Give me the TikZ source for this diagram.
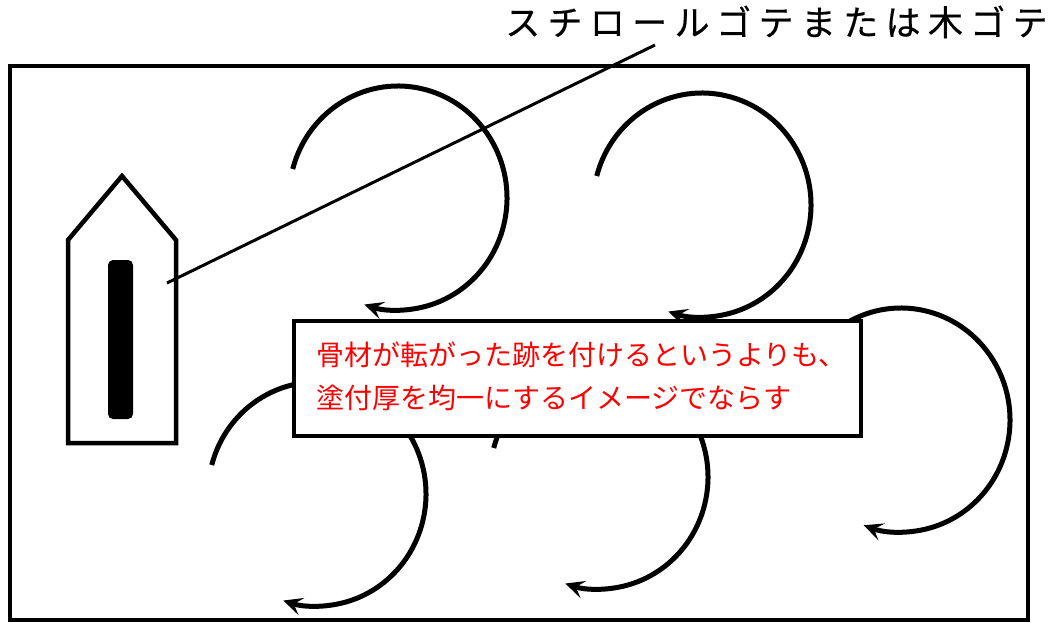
\documentclass[tikz,border=0pt]{standalone}
\usepackage{fontspec}
\newfontfamily\jp{Noto Sans CJK JP}
\usetikzlibrary{arrows.meta}
\begin{document}
\begin{tikzpicture}[x=1pt,y=-1pt,
  frame/.style={line width=3.5pt},
  swirl/.style={line width=5pt,-{Stealth[length=19pt,width=18pt,inset=8pt]}},
  leader/.style={line width=3pt},
  notebox/.style={draw,line width=4.5pt,fill=white,minimum width=567pt,minimum height=115pt,inner sep=0pt},
  redtext/.style={text=red,font=\jp\fontsize{28}{43}\selectfont,align=left,inner sep=0pt,anchor=west},
  titletext/.style={font=\jp\fontsize{35}{37}\selectfont\addfontfeature{LetterSpace=21,FakeBold=0.5},inner sep=0pt,anchor=west}]
\useasboundingbox (0,0) rectangle (1057,622);
\fill[white] (0,0) rectangle (1057,622);
% outer frame
\draw[frame] (10,66) rectangle (1028,620);
% trowel
\draw[line width=4.5pt,line join=miter,fill=white] (68,240) -- (122,176) -- (176,240) -- (176,443) -- (68,443) -- cycle;
\fill[rounded corners=5pt] (108,260) rectangle (133,419);
% swirls
\draw[swirl] ([shift={(-165:109 and 112)}]398,198) arc[start angle=-165,end angle=108,x radius=109,y radius=112];
\draw[swirl] ([shift={(-165:109 and 112)}]702,205) arc[start angle=-165,end angle=108,x radius=109,y radius=112];
\draw[swirl] ([shift={(-165:109 and 112)}]901,420) arc[start angle=-165,end angle=110,x radius=109,y radius=112];
\draw[swirl] ([shift={(-165:109 and 112)}]317,494) arc[start angle=-165,end angle=108,x radius=109,y radius=112];
\draw[swirl] ([shift={(-165:109 and 112)}]599,477) arc[start angle=-165,end angle=108,x radius=109,y radius=112];
% title and leader
\node[titletext] (title) at (505,22) {スチロールゴテまたは木ゴテ};
\coordinate (leadtop) at (655,45);
\coordinate (leadend) at (167,283);
\draw[leader] (leadtop) -- (leadend);
% note box
\node[notebox] (box) at (577.5,378.5) {};
\node[redtext] (note) at (316,376.5) {骨材が転がった跡を付けるというよりも、\\塗付厚を均一にするイメージでならす};
\end{tikzpicture}
\end{document}
